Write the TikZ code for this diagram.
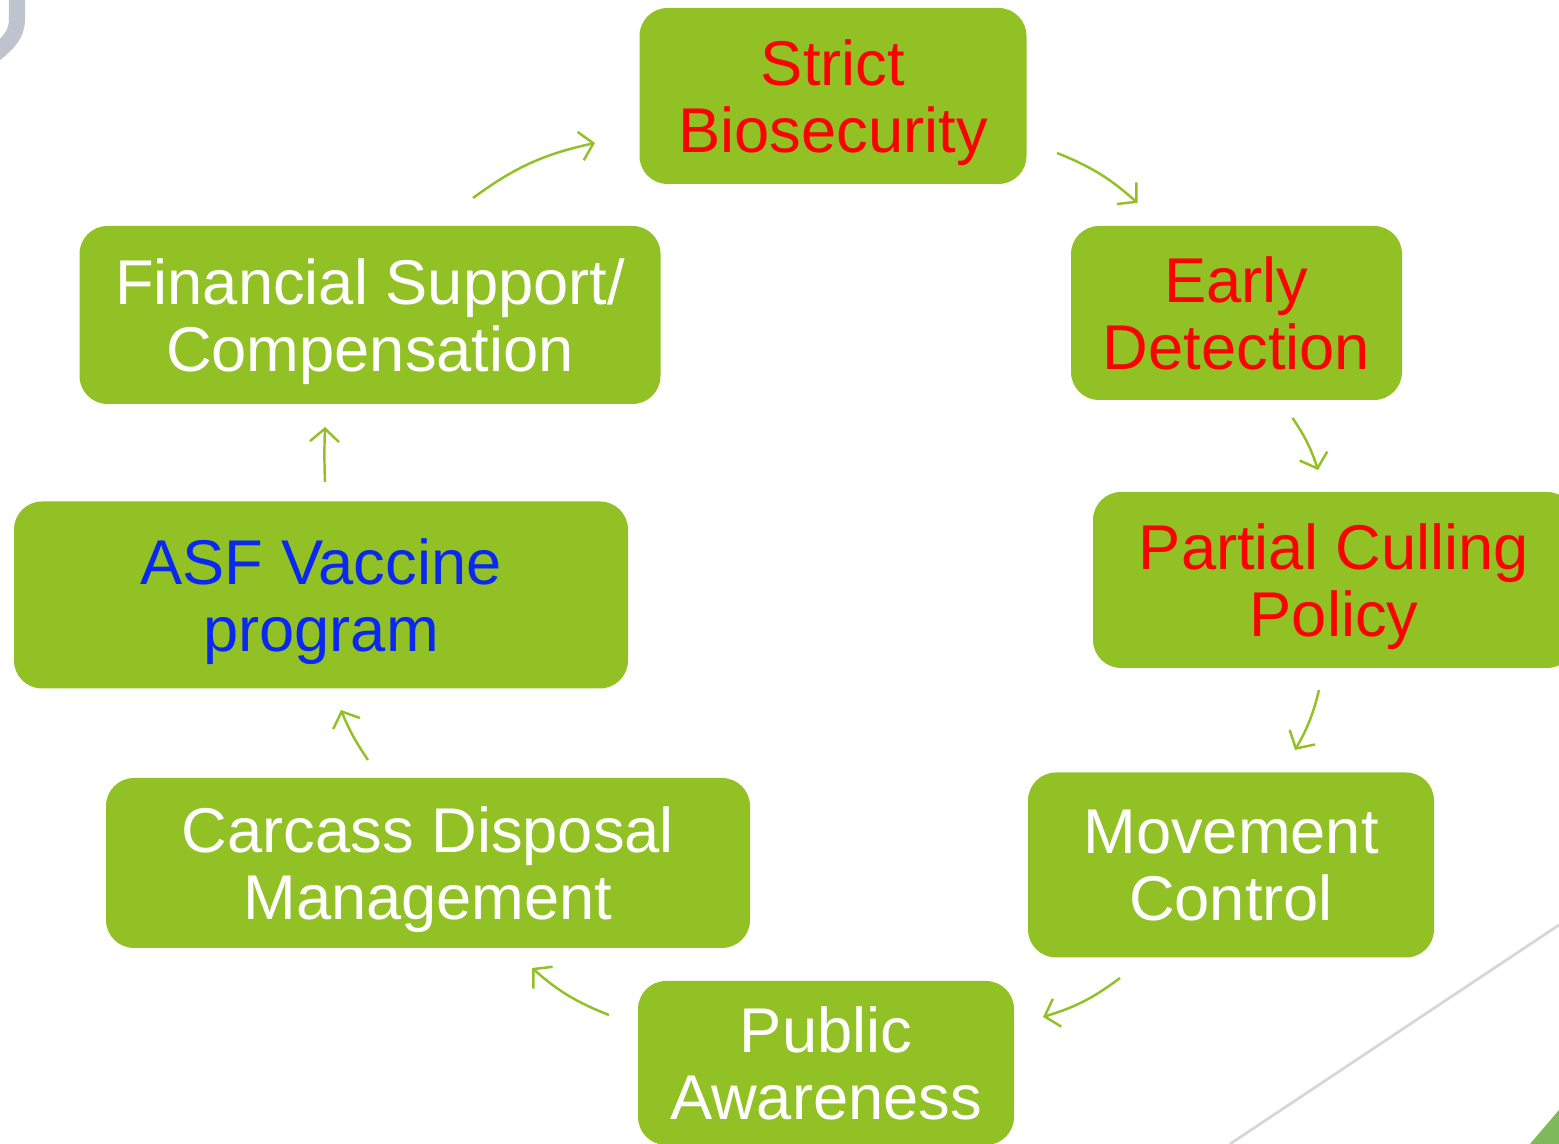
\documentclass[tikz,border=0pt]{standalone}
\usepackage{fontspec}
\setmainfont{Liberation Sans}
\usepackage{tikz}
\usetikzlibrary{arrows.meta, calc}
\definecolor{boxgreen}{RGB}{146,193,37}
\definecolor{txtred}{RGB}{255,0,0}
\definecolor{txtblue}{RGB}{10,40,240}
\definecolor{decogray}{RGB}{190,195,205}
\definecolor{linegray}{RGB}{215,215,215}
\definecolor{cornergreen}{RGB}{127,186,90}

\begin{document}
\begin{tikzpicture}[
    box/.style={fill=boxgreen, rounded corners=0.28cm, align=center, inner sep=2pt,
        text depth=0pt, text=white, font=\fontsize{18}{19}\selectfont},
    arr/.style={-{Straight Barb[length=1.3mm, width=2.9mm]}, line width=0.7pt, draw=boxgreen}
]
\useasboundingbox (0,0) rectangle (15.59,11.44);
\clip (0,0) rectangle (15.59,11.44);
% background decoration
\draw[line width=0.16cm, decogray] (0.17,11.6) -- (0.17,11.25) to[out=-90, in=40] (-0.05,10.9);
\draw[line width=0.8pt, linegray] (15.59,2.19) -- (12.30,0);
\fill[cornergreen] (15.30,0) -- (15.59,0.34) -- (15.59,0) -- cycle;
% steps of the cycle
\node[box, minimum width=3.87cm, minimum height=1.76cm, text=txtred] (strict) at (8.33,10.48) {Strict\\Biosecurity};
\node[box, minimum width=3.31cm, minimum height=1.74cm, text=txtred] (early) at (12.365,8.31) {Early\\Detection};
\node[box, minimum width=4.82cm, minimum height=1.76cm, text=txtred] (partial) at (13.34,5.64) {Partial Culling\\Policy};
\node[box, minimum width=4.06cm, minimum height=1.85cm] (move) at (12.31,2.79) {Movement\\Control};
\node[box, minimum width=3.76cm, minimum height=1.64cm] (public) at (8.26,0.81) {Public\\Awareness};
\node[box, minimum width=6.44cm, minimum height=1.70cm] (carcass) at (4.28,2.81) {Carcass Disposal\\Management};
\node[box, minimum width=6.14cm, minimum height=1.87cm, text=txtblue] (asf) at (3.21,5.49) {ASF Vaccine\\program};
\node[box, minimum width=5.81cm, minimum height=1.78cm] (fin) at (3.70,8.29) {Financial Support/\\Compensation};
% arrows between steps
\foreach \a/\ax/\ay/\b/\bx/\by/\bend in {
    fin/1.03/1.17/strict/-2.38/-0.47/12,
    strict/2.24/-0.57/early/-0.99/1.10/10,
    early/0.56/-1.05/partial/-0.16/1.10/8,
    partial/-0.15/-1.10/move/0.64/1.15/8,
    move/-1.11/-1.13/public/2.17/0.46/10,
    public/-2.17/0.48/carcass/1.04/-1.05/10,
    carcass/-0.60/1.03/asf/0.20/-1.15/6,
    asf/0.04/1.13/fin/-0.45/-1.12/2}
  \draw[arr] ($(\a)+(\ax,\ay)$) to[bend left=\bend] ($(\b)+(\bx,\by)$);
\end{tikzpicture}
\end{document}
